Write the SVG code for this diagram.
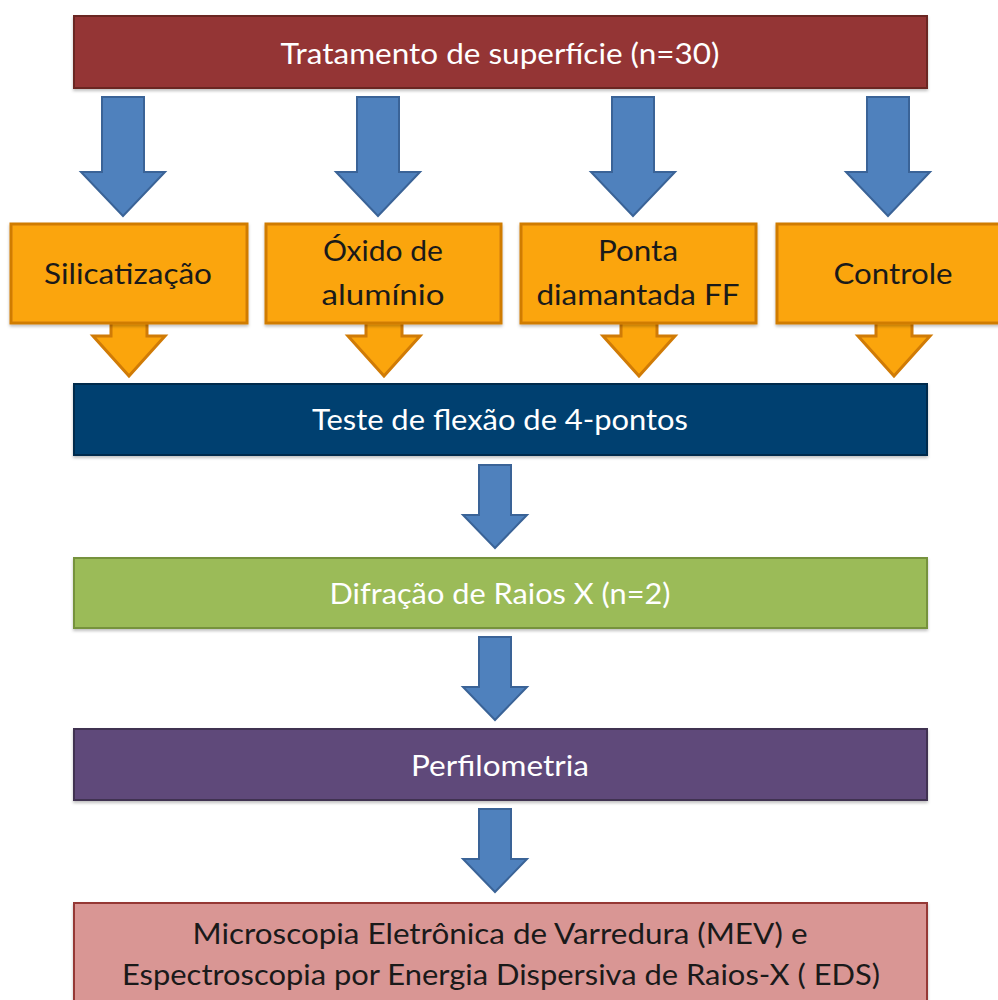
<svg xmlns="http://www.w3.org/2000/svg" width="998" height="1000" viewBox="0 0 998 1000">
<defs>
<style>
.t{font-family:Lato,"Open Sans","Liberation Sans",sans-serif;font-size:28px;text-anchor:middle}
.w{fill:#ffffff}
.k{fill:#1a1a1a}
.ba{fill:#4F81BD;stroke:#3A6397;stroke-width:2;stroke-linejoin:miter}
.oa{fill:#FBA50C;stroke:#D07B06;stroke-width:3;stroke-linejoin:miter}
.ob{fill:#FBA50C;stroke:#D07B06;stroke-width:3}
</style>
<filter id="sh" x="-5%" y="-5%" width="110%" height="120%">
<feDropShadow dx="0" dy="2" stdDeviation="1.5" flood-color="#000" flood-opacity="0.25"/>
</filter>
</defs>
<rect width="998" height="1000" fill="#ffffff"/>
<g id="connectors">
<polygon class="ba" points="102,97 144,97 144,172 165,172 123,216 81,172 102,172"/>
<polygon class="ba" points="357,97 399,97 399,172 420,172 378,216 336,172 357,172"/>
<polygon class="ba" points="612,97 654,97 654,172 675,172 633,216 591,172 612,172"/>
<polygon class="ba" points="867,97 909,97 909,172 930,172 888,216 846,172 867,172"/>
<polygon class="oa" points="111,322 147,322 147,336 165,336 129,376 93,336 111,336"/>
<polygon class="oa" points="366,322 402,322 402,336 420,336 384,376 348,336 366,336"/>
<polygon class="oa" points="621,322 657,322 657,336 675,336 639,376 603,336 621,336"/>
<polygon class="oa" points="876,322 912,322 912,336 930,336 894,376 858,336 876,336"/>
<polygon class="ba" points="479,465 511,465 511,515 527,515 495,548 463,515 479,515"/>
<polygon class="ba" points="479,637 511,637 511,687 527,687 495,720 463,687 479,687"/>
<polygon class="ba" points="479,809 511,809 511,859 527,859 495,892 463,859 479,859"/>
</g>
<g id="n-tratamento">
<rect x="74" y="16" width="853" height="72" fill="#943634" stroke="#6B2624" stroke-width="2" filter="url(#sh)"/>
<text class="t w" x="500" y="64" textLength="439" lengthAdjust="spacingAndGlyphs">Tratamento de superfície (n=30)</text>
</g>
<g id="n-silicatizacao">
<rect class="ob" x="11" y="224" width="236" height="99" filter="url(#sh)"/>
<text class="t k" x="128" y="284" textLength="168" lengthAdjust="spacingAndGlyphs">Silicatização</text>
</g>
<g id="n-oxido">
<rect class="ob" x="266" y="224" width="235" height="99" filter="url(#sh)"/>
<text class="t k" x="383" y="261" textLength="120" lengthAdjust="spacingAndGlyphs">Óxido de</text>
<text class="t k" x="383" y="305" textLength="123" lengthAdjust="spacingAndGlyphs">alumínio</text>
</g>
<g id="n-ponta">
<rect class="ob" x="521" y="224" width="235" height="99" filter="url(#sh)"/>
<text class="t k" x="638" y="261" textLength="80" lengthAdjust="spacingAndGlyphs">Ponta</text>
<text class="t k" x="638" y="305" textLength="203" lengthAdjust="spacingAndGlyphs">diamantada FF</text>
</g>
<g id="n-controle">
<rect class="ob" x="777" y="224" width="235" height="99" filter="url(#sh)"/>
<text class="t k" x="893" y="284" textLength="119" lengthAdjust="spacingAndGlyphs">Controle</text>
</g>
<g id="n-teste">
<rect x="74" y="384" width="853" height="71" fill="#00416F" stroke="#002B4C" stroke-width="2" filter="url(#sh)"/>
<text class="t w" x="500" y="430" textLength="376" lengthAdjust="spacingAndGlyphs">Teste de flexão de 4-pontos</text>
</g>
<g id="n-difracao">
<rect x="74" y="558" width="853" height="70" fill="#9BBB59" stroke="#76923C" stroke-width="2" filter="url(#sh)"/>
<text class="t w" x="500" y="604" textLength="341" lengthAdjust="spacingAndGlyphs">Difração de Raios X (n=2)</text>
</g>
<g id="n-perfilometria">
<rect x="74" y="729" width="853" height="71" fill="#5F497A" stroke="#3F3151" stroke-width="2" filter="url(#sh)"/>
<text class="t w" x="500" y="776" textLength="178" lengthAdjust="spacingAndGlyphs">Perfilometria</text>
</g>
<g id="n-mev">
<rect x="74" y="903" width="853" height="110" fill="#D99694" stroke="#953735" stroke-width="2" filter="url(#sh)"/>
<text class="t k" x="500" y="944" textLength="615" lengthAdjust="spacingAndGlyphs">Microscopia Eletrônica de Varredura (MEV) e</text>
<text class="t k" x="501" y="985" textLength="758" lengthAdjust="spacingAndGlyphs">Espectroscopia por Energia Dispersiva de Raios-X ( EDS)</text>
</g>
</svg>
